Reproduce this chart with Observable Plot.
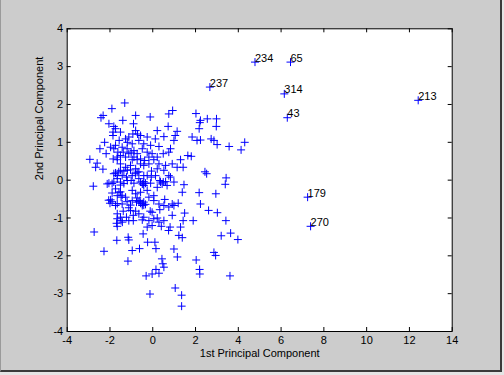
<!DOCTYPE html>
<html><head><meta charset="utf-8">
<script src="https://cdn.jsdelivr.net/npm/d3@7"></script>
<script src="https://cdn.jsdelivr.net/npm/@observablehq/plot@0.6"></script>
<style>
html,body{margin:0;padding:0;background:#e4e4e4;}
#wrap{position:relative;width:504px;height:375px;overflow:hidden;}
#bg{position:absolute;left:0;top:0;width:499px;height:370px;background:#cccccc;border-left:1px solid #9a9a9a;border-right:2px solid #3a3a3a;border-bottom:2px solid #3a3a3a;}
#chart{position:absolute;left:0;top:0;}
</style></head><body>
<div id="wrap"><div id="bg"></div><div id="chart"></div></div>
<script>
const xTitle = "1st Principal Component";
const yTitle = "2nd Principal Component";
const xTicks = [-4,-2,0,2,4,6,8,10,12,14];
const yTicks = [-4,-3,-2,-1,0,1,2,3,4];

const pc1 = [-1.31,-1.91,0.93,2.02,-2.32,-2.42,-0.80,-0.12,0.75,-1.40,2.55,2.98,2.23,2.20,2.17,-2.05,-0.90,-1.82,-1.74,-1.86,
-1.51,0.21,0.72,1.14,2.97,-0.80,-0.93,-1.12,-0.57,-0.71,-1.86,1.05,0.52,0.12,-0.26,0.99,1.84,2.07,2.23,2.73,
2.86,3.01,4.30,-2.25,-1.57,-1.27,-1.19,-0.96,-0.65,-0.42,-0.10,0.29,0.83,-1.74,-1.97,-1.43,3.57,-2.47,-2.18,-1.82,
-1.63,4.13,-0.88,-0.73,-0.49,-0.26,-0.03,-0.18,0.49,0.75,1.64,1.80,-1.27,-1.85,-1.66,-0.96,-0.57,1.30,-2.94,-2.60,
-2.67,-2.33,-1.51,-1.27,-1.04,-0.80,-1.19,-1.51,-0.42,0.29,0.60,0.91,0.21,1.14,1.42,-1.74,-0.73,-0.06,0.52,2.44,
2.52,-1.66,-0.96,-0.42,0.75,0.83,3.43,-1.19,-1.82,-2.05,-2.13,-1.51,-0.88,-0.57,-0.45,-0.34,-0.10,0.36,0.44,0.99,
-2.78,1.46,3.39,0.21,-1.74,-1.58,-0.96,-0.57,-0.26,1.38,2.17,2.95,-1.97,-1.27,-0.73,0.05,0.56,-0.80,-2.00,-1.74,
-1.43,-0.57,-0.49,-0.34,0.91,0.99,1.19,2.23,-1.12,-1.04,-0.80,0.33,-0.12,-0.03,1.49,2.61,3.02,-1.38,-1.66,-1.48,
-1.42,-1.69,-0.91,-0.49,0.21,0.52,0.91,1.42,1.89,3.42,-0.03,-0.26,-1.66,1.30,0.81,0.40,0.74,-2.74,-0.45,3.64,
3.20,-1.15,1.22,1.38,-1.68,-1.12,3.98,-0.24,0.10,0.15,-0.96,-0.62,0.99,-2.28,2.86,2.94,1.15,0.43,2.03,-1.16,
0.47,0.52,0.15,2.19,0.29,-0.03,2.20,-0.31,3.61,1.05,-0.13,1.35,1.35,
-1.59,-1.35,-1.04,-0.65,-0.42,0.60,-1.90,-1.51,-1.35,-2.06,-1.90,-1.66,-1.51,-1.43,-1.20,-1.04,-0.65,-0.49,-0.42,
-1.66,-1.51,-1.38,-1.20,-1.12,-1.01,-0.88,-0.73,-0.57,-0.38,-0.18,0.05,0.21,-1.82,-1.66,-1.43,-1.23,-1.01,-0.81,-0.65,
-0.26,-0.07,0.13,0.33,0.49,0.67,-1.90,-1.66,-1.48,-0.96,-0.76,-0.60,-0.42,-0.18,0.05,0.29,0.52,0.75,-1.66,-1.51,
-1.23,-1.12,-0.91,-0.65,-0.42,-0.18,0.05,0.29,-0.49,-0.42];

const pc2 = [2.04,1.89,1.84,1.76,1.71,1.65,1.71,1.67,1.75,1.58,1.62,1.62,1.58,1.52,1.36,1.49,1.49,1.42,1.36,1.27,
1.27,1.31,1.42,1.29,1.42,1.31,1.22,1.14,1.18,1.22,1.18,1.18,1.15,1.09,1.14,1.05,1.14,1.05,1.06,1.09,
1.05,0.94,1.00,1.00,1.05,1.09,1.00,0.96,1.05,0.96,0.92,0.89,0.83,0.92,0.87,0.87,0.89,0.83,0.70,0.83,
0.74,0.80,0.78,0.70,0.83,0.74,0.70,0.61,0.70,0.74,0.65,0.63,0.61,0.56,0.54,0.54,0.56,0.54,0.55,0.45,
0.34,0.29,0.43,0.34,0.39,0.30,0.26,0.26,0.39,0.43,0.39,0.43,0.30,0.34,0.34,0.19,0.21,0.24,0.26,0.22,
0.17,0.12,0.12,0.12,0.12,0.08,0.06,-0.01,-0.05,-0.08,-0.10,-0.05,-0.08,-0.05,-0.10,-0.08,-0.08,-0.05,-0.10,-0.05,
-0.16,-0.12,-0.11,-0.19,-0.23,-0.32,-0.27,-0.32,-0.27,-0.32,-0.33,-0.36,-0.52,-0.45,-0.47,-0.41,-0.51,-0.36,-0.61,-0.67,
-0.63,-0.61,-0.67,-0.64,-0.63,-0.67,-0.61,-0.63,-0.73,-0.80,-0.82,-0.78,-0.82,-0.85,-0.87,-0.80,-0.86,-0.82,-1.02,-1.07,
-1.11,-1.14,-1.07,-1.05,-1.00,-1.07,-0.93,-1.07,-1.07,-1.07,-1.20,-1.24,-1.22,-1.24,-1.24,-1.22,-1.33,-1.37,-1.42,-1.40,
-1.47,-1.51,-1.46,-1.52,-1.59,-1.58,-1.57,-1.64,-1.64,-1.81,-1.86,-1.81,-1.82,-1.88,-1.91,-1.99,-2.03,-2.08,-2.11,-2.14,
-2.21,-2.30,-2.36,-2.36,-2.46,-2.48,-2.48,-2.53,-2.53,-2.85,-3.01,-3.04,-3.33,
0.22,0.24,0.27,0.22,-0.04,-0.04,-0.09,-0.13,-0.09,-0.53,-0.57,-0.62,-0.31,-0.40,-0.57,-0.66,-0.57,-0.62,-0.66,
0.61,0.65,0.74,0.83,0.70,0.74,0.61,0.54,0.43,0.52,0.43,0.54,0.61,0.17,0.04,0.12,0.08,-0.01,0.17,0.04,
0.12,0.08,0.12,-0.01,-0.05,-0.14,-0.34,-0.41,-0.45,-0.54,-0.58,-0.54,-0.58,-0.45,-0.54,-0.63,-0.67,-0.71,-0.89,-0.98,
-0.98,-1.07,-0.93,-0.89,-0.98,-1.07,-1.02,-1.11,-0.10,-0.14];

const labelIds = ["234","65","237","314","213","43","179","270"];
const labelX = [4.78,6.44,2.67,6.15,12.41,6.29,7.24,7.38];
const labelY = [3.12,3.12,2.46,2.28,2.11,1.65,-0.45,-1.22];

const W = 504, H = 375, mL = 66.7, mR = 52.3, mT = 28.3, mB = 44;
const innerW = W - mL - mR, innerH = H - mT - mB;

const plusSymbol = {draw(ctx, size) {
  const r = Math.sqrt(size / Math.PI);
  ctx.moveTo(-r, 0); ctx.lineTo(r, 0);
  ctx.moveTo(0, -r); ctx.lineTo(0, r);
}};

const points = pc1.map((x, i) => ({x, y: pc2[i]}));
const labeled = labelIds.map((id, i) => ({id, x: labelX[i], y: labelY[i]}));
const font = "'Liberation Sans', Arial, Helvetica, sans-serif";

const chart = Plot.plot({
  width: W, height: H,
  marginLeft: mL, marginRight: mR, marginTop: mT, marginBottom: mB,
  x: {domain: [-4, 14]},
  y: {domain: [-4, 4]},
  style: {background: "transparent", fontFamily: font, fontSize: "11px", color: "#000"},
  marks: [
    Plot.frame({fill: "white"}),
    Plot.ruleX(xTicks, {x: d => d, insetTop: innerH - 4, stroke: "#000"}),
    Plot.ruleX(xTicks, {x: d => d, insetBottom: innerH - 4, stroke: "#000"}),
    Plot.ruleY(yTicks, {y: d => d, insetRight: innerW - 4, stroke: "#000"}),
    Plot.ruleY(yTicks, {y: d => d, insetLeft: innerW - 4, stroke: "#000"}),
    Plot.axisX({ticks: xTicks, tickSize: 0, tickPadding: 5, label: null, tickFormat: d => String(d), fontSize: 11}),
    Plot.axisY({ticks: yTicks, tickSize: 0, tickPadding: 4, label: null, tickFormat: d => String(d), fontSize: 11}),
    Plot.dot(points, {x: "x", y: "y", r: 4, symbol: plusSymbol, stroke: "#0000ff", fill: "none", strokeWidth: 1}),
    Plot.dot(labeled, {x: "x", y: "y", r: 4, symbol: plusSymbol, stroke: "#0000ff", fill: "none", strokeWidth: 1}),
    Plot.text(labeled, {x: "x", y: "y", text: "id", textAnchor: "start", dy: -4, fill: "#000", fontSize: 11}),
    Plot.text([xTitle], {frameAnchor: "bottom", dy: 25, text: d => d, fill: "#000", fontSize: 11}),
    Plot.text([yTitle], {frameAnchor: "left", rotate: -90, dx: -27.4, text: d => d, fill: "#000", fontSize: 11}),
    Plot.frame({stroke: "#000"})
  ]
});
document.getElementById("chart").appendChild(chart);
</script>
</body></html>
